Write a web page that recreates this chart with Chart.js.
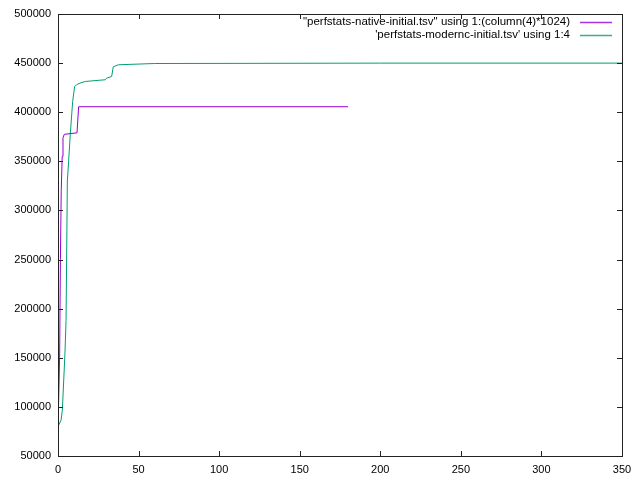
<!DOCTYPE html>
<html>
<head>
<meta charset="utf-8">
<script src="https://cdn.jsdelivr.net/npm/chart.js@4.4.1/dist/chart.umd.min.js"></script>
<style>
  html, body { margin: 0; padding: 0; background: #fff; }
  #wrap { width: 640px; height: 480px; }
</style>
</head>
<body>
<div id="wrap"><canvas id="chart" width="640" height="480"></canvas></div>
<script>
// series (x = sample index, y = memory)
const nativeX = [0, 1, 1.5, 2, 2.6, 3.1, 3.9, 11.8, 12.8, 180]
const nativeY = [77000, 150000, 250000, 320000, 355000, 374000, 377500, 379000, 405600, 405600]

const moderncX = [0, 1.9, 2.7, 4.3, 5.0, 5.8, 6.6, 7.6, 9.1, 10.3, 11.5, 13.6, 16.9, 26, 29.3, 30.2, 33.3, 34.3, 37.4, 60, 200, 350]
const moderncY = [80000, 86500, 96600, 154000, 188000, 330000, 350000, 377000, 411000, 426000, 428000, 429600, 431300, 432600, 433000, 434700, 436400, 446200, 448300, 449600, 450000, 450000]

const xTicks = [0, 50, 100, 150, 200, 250, 300, 350]
const yTicks = [50000, 100000, 150000, 200000, 250000, 300000, 350000, 400000, 450000, 500000]

const labels = [
  '"perfstats-native-initial.tsv" using 1:(column(4)*1024)',
  "'perfstats-modernc-initial.tsv' using 1:4"
]
const colors = ['#9400d3', '#009e73']

const toPoints = (xs, ys) => xs.map((x, i) => ({x: x, y: ys[i]}))

const fontFamily = '"Liberation Sans", Arial, sans-serif'

// gnuplot style frame: full box, inward mirrored ticks, legend at top right
const framePlugin = {
  id: 'frame',
  afterDraw(chart) {
    const {ctx, chartArea: a, scales} = chart
    const tl = 5
    ctx.save()
    ctx.strokeStyle = '#222'
    ctx.lineWidth = 1
    ctx.beginPath()
    xTicks.forEach(v => {
      const px = Math.round(scales.x.getPixelForValue(v)) + 0.5
      ctx.moveTo(px, a.bottom); ctx.lineTo(px, a.bottom - tl)
      ctx.moveTo(px, a.top); ctx.lineTo(px, a.top + tl)
    })
    yTicks.forEach(v => {
      const py = Math.round(scales.y.getPixelForValue(v)) + 0.5
      ctx.moveTo(a.left, py); ctx.lineTo(a.left + tl, py)
      ctx.moveTo(a.right, py); ctx.lineTo(a.right - tl, py)
    })
    ctx.stroke()
    ctx.strokeRect(Math.round(a.left) + 0.5, Math.round(a.top) + 0.5,
      Math.round(a.right - a.left), Math.round(a.bottom - a.top))

    // key
    ctx.font = '11.5px ' + fontFamily
    ctx.fillStyle = '#000'
    ctx.textAlign = 'right'
    ctx.textBaseline = 'middle'
    chart.data.datasets.forEach((ds, i) => {
      const y = 22 + i * 13
      ctx.fillText(ds.label, 570, y)
      ctx.strokeStyle = ds.borderColor
      ctx.lineWidth = 1.5
      ctx.globalAlpha = 0.8
      ctx.beginPath()
      ctx.moveTo(580, y + 0.5)
      ctx.lineTo(612, y + 0.5)
      ctx.stroke()
      ctx.globalAlpha = 1
    })
    ctx.restore()
  }
}

new Chart(document.getElementById('chart'), {
  type: 'line',
  data: {
    datasets: [
      {
        label: labels[0],
        data: toPoints(nativeX, nativeY),
        borderColor: colors[0],
        borderWidth: 1,
        pointRadius: 0,
        tension: 0
      },
      {
        label: labels[1],
        data: toPoints(moderncX, moderncY),
        borderColor: colors[1],
        borderWidth: 1,
        pointRadius: 0,
        tension: 0
      }
    ]
  },
  options: {
    responsive: false,
    animation: false,
    layout: {padding: {top: 14, right: 18, left: 0, bottom: 0}},
    plugins: {
      legend: {display: false},
      tooltip: {enabled: false}
    },
    scales: {
      x: {
        type: 'linear',
        min: 0,
        max: 350,
        afterBuildTicks: (scale) => { scale.ticks = xTicks.map(v => ({value: v})) },
        afterFit: (scale) => { scale.height = 24 },
        grid: {display: false, drawTicks: false},
        border: {display: false},
        ticks: {color: '#000', padding: 7, maxRotation: 0, font: {size: 11, family: fontFamily}}
      },
      y: {
        type: 'linear',
        min: 50000,
        max: 500000,
        afterBuildTicks: (scale) => { scale.ticks = yTicks.map(v => ({value: v})) },
        afterFit: (scale) => { scale.width = 58 },
        grid: {display: false, drawTicks: false},
        border: {display: false},
        ticks: {color: '#000', padding: 7, font: {size: 11, family: fontFamily},
          callback: (v) => String(v)}
      }
    }
  },
  plugins: [framePlugin]
})
</script>
</body>
</html>
